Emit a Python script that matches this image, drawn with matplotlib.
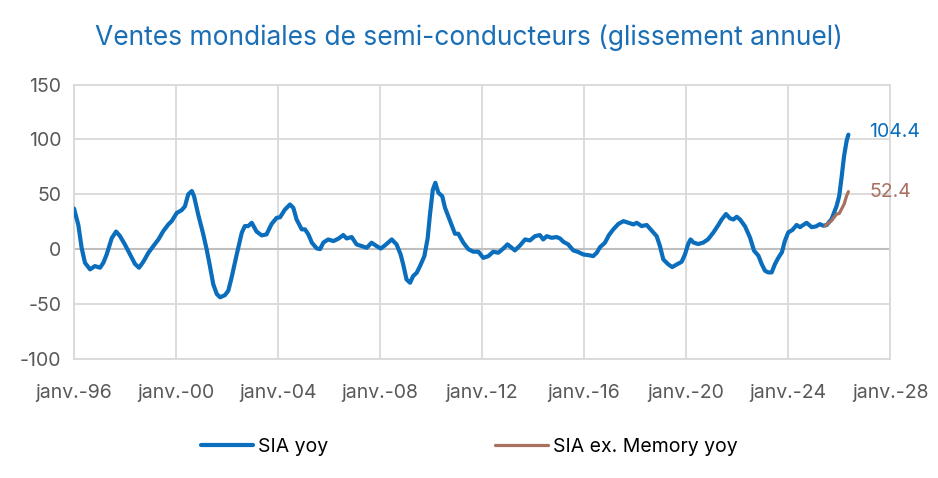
import matplotlib
matplotlib.use("Agg")
import matplotlib.pyplot as plt
import numpy as np

# Glissement annuel des ventes SIA (en années décimales)
sia_years = [
    1996.0, 1996.17, 1996.3, 1996.43, 1996.63, 1996.82, 1997.02, 1997.15, 1997.28, 1997.48,
    1997.65, 1997.8, 1998.0, 1998.2, 1998.39, 1998.55, 1998.72, 1998.92, 1999.11, 1999.31,
    1999.5, 1999.7, 1999.83, 2000.03, 2000.22, 2000.35, 2000.48, 2000.62, 2000.71, 2000.87,
    2001.07, 2001.2, 2001.33, 2001.46, 2001.6, 2001.73, 2001.92, 2002.05, 2002.18, 2002.38,
    2002.58, 2002.7, 2002.83, 2002.97, 2003.16, 2003.36, 2003.55, 2003.75, 2003.95, 2004.08,
    2004.27, 2004.47, 2004.6, 2004.73, 2004.93, 2005.06, 2005.19, 2005.33, 2005.52, 2005.65,
    2005.78, 2005.97, 2006.17, 2006.36, 2006.56, 2006.69, 2006.89, 2007.08, 2007.28, 2007.48,
    2007.67, 2007.87, 2008.03, 2008.2, 2008.46, 2008.65, 2008.81, 2008.91, 2009.04, 2009.18,
    2009.3, 2009.44, 2009.57, 2009.74, 2009.87, 2009.96, 2010.07, 2010.17, 2010.29, 2010.44,
    2010.55, 2010.75, 2010.94, 2011.07, 2011.27, 2011.46, 2011.66, 2011.86, 2012.05, 2012.25,
    2012.44, 2012.64, 2012.84, 2013.0, 2013.16, 2013.29, 2013.49, 2013.69, 2013.88, 2014.08,
    2014.27, 2014.4, 2014.54, 2014.73, 2014.93, 2015.06, 2015.19, 2015.38, 2015.58, 2015.78,
    2015.97, 2016.17, 2016.36, 2016.5, 2016.63, 2016.82, 2016.98, 2017.15, 2017.35, 2017.55,
    2017.74, 2017.94, 2018.07, 2018.26, 2018.46, 2018.65, 2018.85, 2018.98, 2019.11, 2019.31,
    2019.46, 2019.64, 2019.83, 2019.96, 2020.09, 2020.18, 2020.29, 2020.48, 2020.68, 2020.87,
    2021.07, 2021.27, 2021.4, 2021.57, 2021.73, 2021.86, 2021.99, 2022.12, 2022.31, 2022.51,
    2022.67, 2022.84, 2022.97, 2023.1, 2023.23, 2023.36, 2023.49, 2023.63, 2023.76, 2023.88,
    2024.01, 2024.18, 2024.34, 2024.47, 2024.73, 2024.93, 2025.1, 2025.25, 2025.38, 2025.52,
    2025.71, 2025.91, 2026.01, 2026.1, 2026.2, 2026.3, 2026.37,
]
sia_yoy = [
    37, 22, 1, -12.5, -18.5, -15.5, -17, -12.5, -5, 10,
    16, 12, 4, -5, -13.5, -17, -11.5, -3.3, 2.7, 8.8,
    16.4, 22.5, 25.5, 33, 35.5, 39, 50, 53, 48, 31.6,
    13.4, 0, -15.5, -32, -41, -44, -42, -38, -26, -5,
    15, 21, 21, 24, 16, 12.5, 13.4, 23, 28.6, 29,
    36, 40.7, 37.7, 27, 18, 18, 13.4, 5.8, 0.6, 0,
    6, 8.8, 7.3, 9.4, 12.8, 9.7, 11, 4.3, 2.7, 1.2,
    5.8, 2.7, 0.5, 3.5, 8.8, 4.3, -5, -14, -27.7, -30.7,
    -24.6, -21.6, -15.5, -6.4, 10, 31.6, 54, 60.5, 51.4, 48.3,
    37.7, 25.5, 14, 14, 5.8, 0, -2.4, -2.4, -8, -6.4,
    -2.4, -3.3, 0.6, 4.3, 1.2, -1.2, 3.3, 8.8, 7.9, 11.8,
    12.8, 8.8, 11.8, 10.3, 11, 9.7, 6.7, 4.3, -1.2, -2.7,
    -4.9, -5.5, -6.4, -3.3, 1.8, 5.8, 12.8, 18, 23, 25.5,
    24, 22.5, 24, 21, 22, 17, 11.8, 2.7, -9.4, -14,
    -16.4, -14, -11.6, -4.9, 4.9, 8.8, 6, 4.6, 6, 9,
    15, 22, 27, 32, 28, 27, 29.5, 27, 21, 10.6,
    -1.5, -6, -13.7, -19.8, -21.3, -21.3, -13.7, -7.6, -3, 7.6,
    15.2, 17.6, 22, 20, 24, 20, 20.7, 22.8, 21.3, 22,
    27.4, 39.5, 48.6, 65, 85, 98.8, 104.4,
]

# SIA hors mémoire (seulement la fin de période)
exmem_years = [2025.45, 2025.71, 2025.91, 2026.01, 2026.1, 2026.2, 2026.3, 2026.37]
exmem_yoy = [21, 26, 32, 32.5, 36.5, 41, 48.6, 52.4]

tick_years = [1996, 2000, 2004, 2008, 2012, 2016, 2020, 2024, 2028]
tick_labels = ["janv.-96", "janv.-00", "janv.-04", "janv.-08", "janv.-12",
               "janv.-16", "janv.-20", "janv.-24", "janv.-28"]

blue = "#0a6ebd"
brown = "#a8705f"
grey_txt = "#595959"

plt.rcParams["font.family"] = ["Inter", "DejaVu Sans"]
plt.rcParams["axes.unicode_minus"] = False

fig = plt.figure(figsize=(9.38, 4.78), dpi=100)
ax = fig.add_axes([0.0789, 0.2496, 0.8699, 0.5732])

ax.plot(sia_years, sia_yoy, color=blue, lw=3.0, solid_capstyle="round",
        label="SIA yoy", zorder=3)
ax.plot(exmem_years, exmem_yoy, color=brown, lw=2.3, solid_capstyle="round",
        label="SIA ex. Memory yoy", zorder=4)

ax.set_xlim(1996, 2028)
ax.set_ylim(-100, 150)
ax.set_xticks(tick_years)
ax.set_xticklabels(tick_labels)
ax.set_yticks(np.arange(-100, 151, 50))

ax.grid(True, color="#d9d9d9", lw=1.3)
ax.axhline(0, color="#bfbfbf", lw=1.5, zorder=2)
for s in ax.spines.values():
    s.set_color("#d9d9d9")
    s.set_linewidth(1.3)
ax.tick_params(length=0, labelsize=14, colors=grey_txt)
ax.tick_params(axis="x", pad=18)
ax.tick_params(axis="y", pad=9)

# valeurs finales
ax.annotate(f"{sia_yoy[-1]}", (sia_years[-1], sia_yoy[-1]), xytext=(15, 2),
            textcoords="offset points", color=blue, fontsize=14, va="center")
ax.annotate(f"{exmem_yoy[-1]}", (exmem_years[-1], exmem_yoy[-1]), xytext=(15, 0),
            textcoords="offset points", color=brown, fontsize=14, va="center")

fig.text(0.5, 0.92, "Ventes mondiales de semi-conducteurs (glissement annuel)",
         ha="center", va="center", color="#1a6eb5", fontsize=19)

fig.legend(loc="center", bbox_to_anchor=(0.5, 0.065), ncol=2, frameon=False,
           fontsize=14, handlelength=2.7, handletextpad=0.25, columnspacing=8.6)

fig.savefig("out.png", dpi=100)
